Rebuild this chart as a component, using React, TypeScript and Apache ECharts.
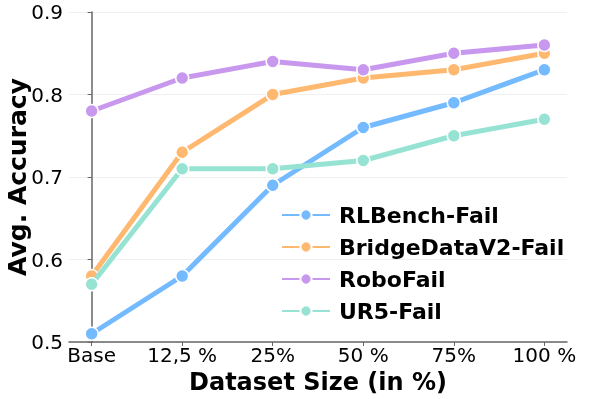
import React, { useEffect, useRef } from "react";
import * as echarts from "echarts";

const categories = ["Base", "12,5 %", "25%", "50 %", "75%", "100 %"];
const seriesNames = ["RLBench-Fail", "BridgeDataV2-Fail", "RoboFail", "UR5-Fail"];
const rlbench = [0.51, 0.58, 0.69, 0.76, 0.79, 0.83];
const bridge = [0.58, 0.73, 0.80, 0.82, 0.83, 0.85];
const robofail = [0.78, 0.82, 0.84, 0.83, 0.85, 0.86];
const ur5 = [0.57, 0.71, 0.71, 0.72, 0.75, 0.77];
const colors = ["#74BAFF", "#FFB870", "#C898EE", "#96E3D3"];
const yTicks = [0.5, 0.6, 0.7, 0.8, 0.9];

export default function App() {
  const ref = useRef<HTMLDivElement>(null);
  useEffect(() => {
    if (!ref.current) return;
    const chart = echarts.init(ref.current, undefined, { renderer: "svg" });
    const all = [rlbench, bridge, robofail, ur5];
    const font = "DejaVu Sans";
    chart.setOption({
      animation: false,
      grid: { left: 69, right: 31, top: 12, bottom: 57, outerBoundsMode: "none", containLabel: false },
      legend: {
        orient: "vertical",
        left: 276,
        top: 199,
        itemWidth: 48,
        itemHeight: 14,
        itemGap: 10,
        data: seriesNames,
        textStyle: {
          fontFamily: font,
          fontWeight: "bold",
          fontSize: 22,
          lineHeight: 22,
          color: "#000",
          padding: [0, 0, 0, 4],
        },
      },
      xAxis: {
        type: "value",
        min: -0.25,
        max: 5.25,
        name: "Dataset Size (in %)",
        nameLocation: "middle",
        nameGap: 28,
        nameMoveOverlap: false,
        nameTextStyle: { fontFamily: font, fontWeight: "bold", fontSize: 24, color: "#000", verticalAlign: "top" },
        axisLine: { show: true, onZero: false, lineStyle: { color: "#666", width: 1.5 } },
        axisTick: { show: true, length: 4, customValues: [0, 1, 2, 3, 4, 5], lineStyle: { color: "#666" } },
        axisLabel: {
          customValues: [0, 1, 2, 3, 4, 5],
          formatter: (v: number) => categories[Math.round(v)] ?? "",
          fontFamily: font,
          fontSize: 20,
          color: "#000",
          margin: 3,
        },
        splitLine: { show: false },
      },
      yAxis: {
        type: "value",
        min: 0.5,
        max: 0.9,
        interval: 0.1,
        name: "Avg. Accuracy",
        nameLocation: "middle",
        nameGap: 39,
        nameMoveOverlap: false,
        nameTextStyle: { fontFamily: font, fontWeight: "bold", fontSize: 25, color: "#000" },
        axisLine: { show: true, lineStyle: { color: "#666", width: 1.5 } },
        axisTick: { show: true, length: 4, lineStyle: { color: "#666" } },
        axisLabel: {
          formatter: (v: number) => (yTicks.some((t) => Math.abs(t - v) < 1e-9) ? v.toFixed(1) : ""),
          fontFamily: font,
          fontSize: 20,
          color: "#000",
          margin: 6,
        },
        splitLine: { show: true, lineStyle: { color: "#f0f0f0", width: 1 } },
      },
      series: seriesNames.map((name, i) => ({
        name,
        type: "line",
        data: all[i].map((v, j) => [j, v]),
        symbol: "circle",
        symbolSize: 13,
        color: colors[i],
        lineStyle: { width: 5, color: colors[i] },
        itemStyle: { color: colors[i], borderColor: "#fff", borderWidth: 1.5 },
        z: 2 + i,
      })),
    });
    return () => chart.dispose();
  }, []);
  return <div ref={ref} style={{ position: "fixed", left: 0, top: 0, width: 598, height: 399 }} />;
}
